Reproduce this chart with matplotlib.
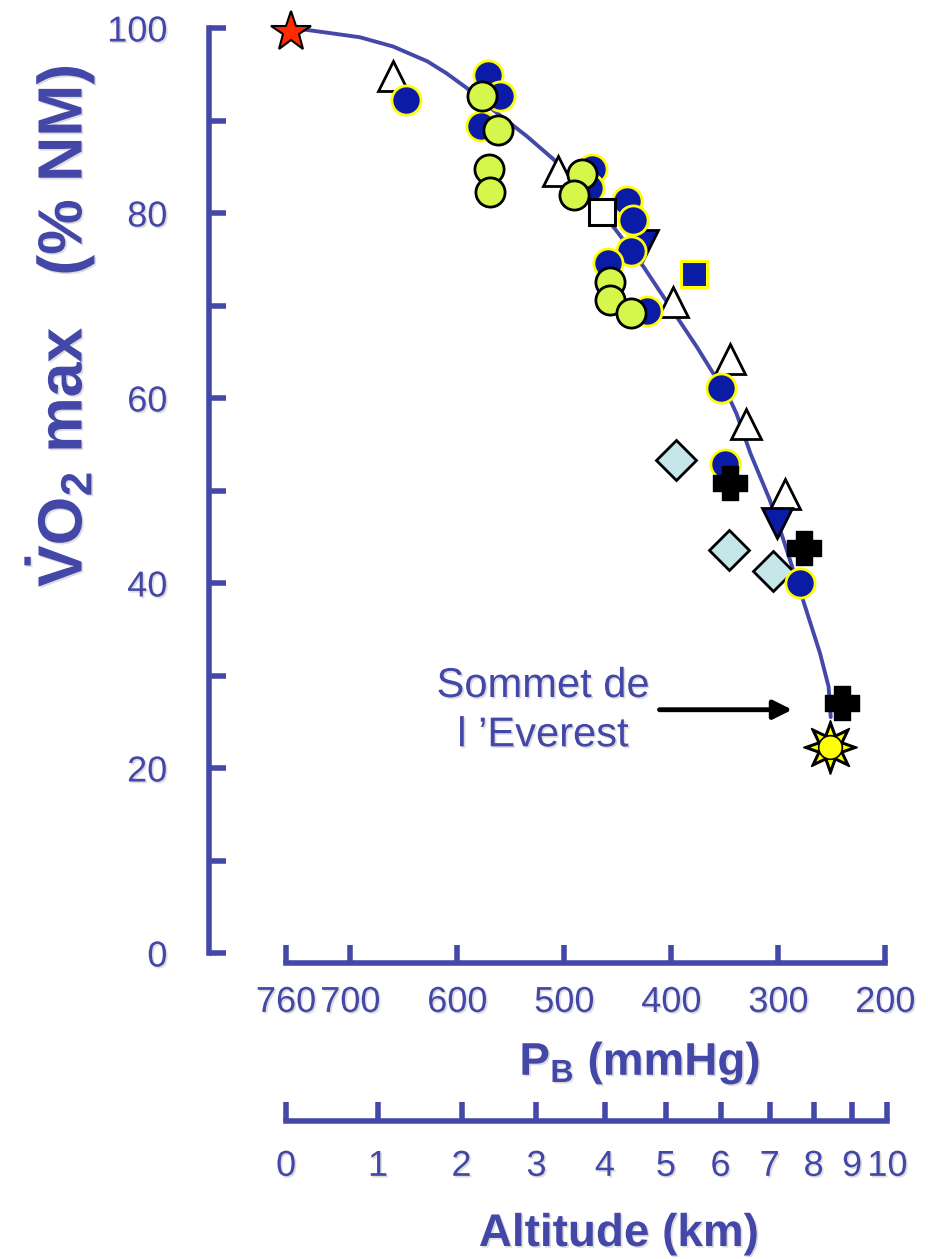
import matplotlib
matplotlib.use('Agg')
import matplotlib.pyplot as plt
from matplotlib.path import Path
import matplotlib.patheffects as pe

plt.rcParams['font.family'] = ['Liberation Sans', 'DejaVu Sans']
plt.rcParams['mathtext.fontset'] = 'custom'
plt.rcParams['mathtext.rm'] = 'Liberation Sans'
plt.rcParams['mathtext.bf'] = 'Liberation Sans:bold'
plt.rcParams['mathtext.it'] = 'Liberation Sans:italic'

# ---------------- data ----------------
pb_ticks = [760, 700, 600, 500, 400, 300, 200]
alt_km = [0, 1, 2, 3, 4, 5, 6, 7, 8, 9, 10]
alt_pb = [760, 674, 596, 526, 462, 405, 354, 308, 267, 231, 198]
y_ticks = [0, 10, 20, 30, 40, 50, 60, 70, 80, 90, 100]
y_ticklabels = ['0', '', '20', '', '40', '', '60', '', '80', '', '100']

curve_pb = [760, 741, 722, 691, 660, 628, 610, 591, 566, 535, 510, 482, 454,
            426, 395, 376, 361, 345, 339, 326, 308, 295, 277, 261, 253, 251]
curve_vo2 = [100, 99.8, 99.5, 99.0, 98.0, 96.4, 95.1, 93.5, 91.1, 88.3, 85.8,
             82.2, 78.5, 74.2, 68.8, 65.5, 62.7, 59.8, 58.3, 54.0, 49.0, 44.6,
             38.2, 32.4, 28.8, 25.5]

sealevel_pb = [755]
sealevel_vo2 = [99.6]

open_tri_pb = [660, 506, 398, 345, 330, 294]
open_tri_vo2 = [94.8, 84.5, 70.4, 64.2, 57.2, 49.6]

inv_tri_pb = [426, 301]
inv_tri_vo2 = [76.5, 46.5]

blue_circ_pb = [648, 571, 560, 578, 474, 477, 441, 436, 438, 459, 423, 354,
                350, 280]
blue_circ_vo2 = [92.2, 94.9, 92.6, 89.4, 84.8, 82.7, 81.3, 79.2, 75.9, 74.6,
                 69.4, 61.1, 52.9, 40.0]

green_circ_pb = [577, 562, 570, 569, 483, 491, 457, 457, 438]
green_circ_vo2 = [92.7, 89.0, 84.8, 82.3, 84.2, 82.0, 72.5, 70.6, 69.2]

open_sq_pb = [465]
open_sq_vo2 = [80.1]

blue_sq_pb = [379]
blue_sq_vo2 = [73.4]

diamond_pb = [396, 346, 305]
diamond_vo2 = [53.3, 43.6, 41.3]

cross_pb = [345, 276, 240]
cross_vo2 = [50.8, 43.8, 27.0]

everest_pb = [252]
everest_vo2 = [22.3]

# ---------------- style ----------------
AX = '#4449A9'
TXT = '#4347A7'
BLUE = '#0A1CA6'
YEL = '#FFFF00'
GREEN = '#D5F74B'
CYAN = '#C5E6E8'

shadow = [pe.withSimplePatchShadow(offset=(1.2, -1.2), shadow_rgbFace='#bbbbbb', alpha=0.5)]

fig = plt.figure(figsize=(9.29, 12.59), dpi=100)
ax = fig.add_axes([209 / 929, 306 / 1259, 687 / 929, 925 / 1259])
ax.set_xlim(832, 190)
ax.set_ylim(0, 100)

for s in ['top', 'right']:
    ax.spines[s].set_visible(False)
ax.spines['left'].set_color(AX)
ax.spines['left'].set_linewidth(4)
ax.spines['left'].set_bounds(0, 100)
ax.spines['bottom'].set_color(AX)
ax.spines['bottom'].set_linewidth(4)
ax.spines['bottom'].set_bounds(760, 200)
ax.spines['bottom'].set_position(('outward', 7))

ax.set_yticks(y_ticks)
ax.set_yticklabels(y_ticklabels)
ax.set_xticks(pb_ticks)
ax.set_xticklabels([str(v) for v in pb_ticks])
ax.tick_params(axis='y', direction='in', length=12, width=4, color=AX,
               labelcolor=TXT, labelsize=26, pad=30)
ax.tick_params(axis='x', direction='in', length=13, width=4, color=AX,
               labelcolor=TXT, labelsize=26, pad=16)
for lab in ax.get_xticklabels() + ax.get_yticklabels():
    lab.set_path_effects(shadow)

# curve
ax.plot(curve_pb, curve_vo2, color=AX, lw=2.8, zorder=2,
        solid_capstyle='round', solid_joinstyle='round')

# markers
kw = dict(clip_on=False, linestyle='none')
ax.plot(diamond_pb, diamond_vo2, marker='D', ms=20, mfc=CYAN, mec='black', mew=2, zorder=3, **kw)
ax.plot(open_tri_pb, open_tri_vo2, marker='^', ms=21, mfc='white', mec='black', mew=2, zorder=3, **kw)
ax.plot(inv_tri_pb, inv_tri_vo2, marker='v', ms=21, mfc=BLUE, mec='black', mew=2, zorder=3, **kw)
ax.plot(blue_circ_pb, blue_circ_vo2, marker='o', ms=21, mfc=BLUE, mec=YEL, mew=2, zorder=4, **kw)
ax.plot(green_circ_pb, green_circ_vo2, marker='o', ms=21, mfc=GREEN, mec='black', mew=2, zorder=5, **kw)
ax.plot(open_sq_pb, open_sq_vo2, marker='s', ms=19, mfc='white', mec='black', mew=2.2, zorder=5, **kw)
ax.plot(blue_sq_pb, blue_sq_vo2, marker='s', ms=19, mfc=BLUE, mec=YEL, mew=2.2, zorder=5, **kw)

plus_path = Path([(-0.23, -0.5), (0.23, -0.5), (0.23, -0.23), (0.5, -0.23),
                  (0.5, 0.23), (0.23, 0.23), (0.23, 0.5), (-0.23, 0.5),
                  (-0.23, 0.23), (-0.5, 0.23), (-0.5, -0.23), (-0.23, -0.23),
                  (-0.23, -0.5)], closed=True)
ax.plot(cross_pb, cross_vo2, marker=plus_path, ms=24, mfc='black', mec='black', mew=1, zorder=6, **kw)
ax.plot(sealevel_pb, sealevel_vo2, marker='*', ms=30, mfc='#FF2A00', mec='black', mew=1.5, zorder=6, **kw)
# Everest "sun"
ax.plot(everest_pb, everest_vo2, marker=(8, 1, 0), ms=39, mfc='black', mec='black', mew=1, zorder=6, **kw)
ax.plot(everest_pb, everest_vo2, marker=(8, 1, 0), ms=29, mfc=YEL, mec='none', zorder=7, **kw)
ax.plot(everest_pb, everest_vo2, marker='o', ms=17, mfc=YEL, mec='black', mew=1.2, zorder=8, **kw)

# annotation
ax.text(520, 26.2, "Sommet de\nl \u2019Everest", ha='center', va='center',
        fontsize=30, color=TXT, linespacing=1.3, path_effects=shadow)
ax.annotate('', xy=(287, 26.3), xytext=(411, 26.3),
            arrowprops=dict(arrowstyle='-|>', color='black', lw=3.5,
                            mutation_scale=28, shrinkA=0, shrinkB=0))

# altitude axis
ax2 = fig.add_axes(ax.get_position())
ax2.patch.set_visible(False)
ax2.set_xlim(ax.get_xlim())
ax2.set_ylim(0, 1)
for s in ['top', 'right', 'left']:
    ax2.spines[s].set_visible(False)
ax2.spines['bottom'].set_color(AX)
ax2.spines['bottom'].set_linewidth(4)
ax2.spines['bottom'].set_bounds(760, 198)
ax2.spines['bottom'].set_position(('outward', 121))
ax2.set_yticks([])
ax2.set_xticks(alt_pb)
ax2.set_xticklabels([str(k) for k in alt_km])
ax2.tick_params(axis='x', direction='in', length=14, width=4, color=AX,
                labelcolor=TXT, labelsize=26, pad=20)
for lab in ax2.get_xticklabels():
    lab.set_path_effects(shadow)

# axis titles
fig.text(640 / 929, 1 - 1063 / 1259, r"P$_\mathbf{B}$ (mmHg)", ha='center', va='center',
         fontsize=33, fontweight='bold', color=TXT, path_effects=shadow)
fig.text(619 / 929, 1 - 1234 / 1259, "Altitude (km)", ha='center', va='center',
         fontsize=33, fontweight='bold', color=TXT, path_effects=shadow)
fig.text(60 / 929, 1 - 326 / 1259, r"$\mathbf{\dot{V}O_2}$ max   (% NM)", rotation=90,
         ha='center', va='center', fontsize=45, fontweight='bold', color=TXT,
         path_effects=shadow)

fig.savefig('out.png', dpi=100)
